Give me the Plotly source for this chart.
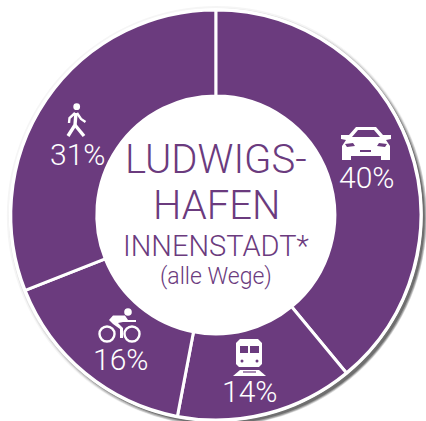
import plotly.graph_objects as go

W, H = 426, 421
categories = ["Auto", "Bahn", "Rad", "Fuß"]
shares = [39, 14, 16, 31]   # slice sizes as drawn
labels = ["40%", "14%", "16%", "31%"]
label_xy = [(366, 177), (249, 391), (120, 359), (77, 154)]
PURPLE = "#6b3b7e"
FONT = "Roboto"
CX, CY, R, HOLE = 215.8, 215.0, 205.0, 119.0

def px(x): return x / W
def py(y): return 1 - y / H
def pt(x, y): return f"{px(x):.5f},{py(y):.5f}"
def poly(points, close=True):
    s = "M" + " L".join(pt(x, y) for x, y in points)
    return s + (" Z" if close else "")

shapes = []
def circle(cx, cy, r, fill=None, line=None, lw=0, layer="above"):
    shapes.append(dict(type="circle", xref="paper", yref="paper", layer=layer,
                       x0=px(cx - r), x1=px(cx + r), y0=py(cy + r), y1=py(cy - r),
                       fillcolor=fill or "rgba(0,0,0,0)",
                       line=dict(color=line or "rgba(0,0,0,0)", width=lw)))
def path(d, fill=None, line=None, lw=0):
    shapes.append(dict(type="path", xref="paper", yref="paper", path=d, layer="above",
                       fillcolor=fill or "rgba(0,0,0,0)",
                       line=dict(color=line or "rgba(0,0,0,0)", width=lw)))

# soft drop shadow behind the disc
for off, r, a in [(1, 210, .04), (2, 209, .07), (3, 208, .12), (3, 207, .2), (3, 206, .3)]:
    circle(CX + off, CY + off, r, fill=f"rgba(0,0,0,{a})", layer="below")
circle(CX, CY, 207, fill="white", layer="below")

# walker
W_ = "white"
circle(76.7, 106.7, 3.4, fill=W_)
path(poly([(76, 113), (75, 125), (68, 136)], False), line=W_, lw=3.4)
path(poly([(75, 125), (84, 136)], False), line=W_, lw=3.4)
path(poly([(75, 113), (69.5, 118), (69, 123)], False), line=W_, lw=2.4)
path(poly([(77, 113), (81, 119), (85.5, 122)], False), line=W_, lw=2.4)

# car
car = poly([(356, 127), (376, 127), (383, 135), (391, 135), (391, 139), (386, 140), (390, 146),
            (390, 160), (381, 160), (381, 156), (351, 156), (351, 160), (342, 160), (342, 146),
            (346, 140), (341, 139), (341, 135), (349, 135)])
car += " " + poly([(358, 130), (374, 130), (380, 137), (352, 137)])
car += " " + poly([(345, 144), (353, 143), (355, 146), (347, 147)])
car += " " + poly([(387, 144), (379, 143), (377, 146), (385, 147)])
car += " " + poly([(360, 150), (371, 150), (371, 152), (360, 152)])
path(car, fill=W_)

# train
train = poly([(240, 339), (258, 339), (262, 343), (262, 364), (259, 367), (239, 367), (236, 364), (236, 343)])
train += " " + poly([(240, 346), (248, 346), (248, 353), (240, 353)])
train += " " + poly([(250, 346), (259, 346), (259, 353), (250, 353)])
path(train, fill=W_)
circle(242, 361, 1.5, fill=PURPLE)
circle(257, 361, 1.5, fill=PURPLE)
path(poly([(240, 370), (259, 370), (266, 376), (233, 376)]), fill=W_)
path(poly([(243, 372), (256, 372)], False), line=PURPLE, lw=1.2)

# cyclist
circle(107, 334, 7.5, line=W_, lw=2.4)
circle(132, 334, 7.5, line=W_, lw=2.4)
circle(128, 312, 3.8, fill=W_)
path(poly([(109, 320), (113, 315.5), (125, 315.5), (128, 320), (136, 320), (136, 322), (126, 322),
           (123, 322), (118, 323), (123, 328), (123, 338), (120, 338), (120, 329), (113, 324)]), fill=W_)

annotations = [dict(x=px(x), y=py(y), text=t, xref="paper", yref="paper", showarrow=False,
                    xanchor="center", yanchor="middle",
                    font=dict(family=FONT, size=30, color="white", weight=300))
               for t, (x, y) in zip(labels, label_xy)]
for t, y, size, w in [("LUDWIGS-", 160, 40, 300), ("HAFEN", 205, 40, 300),
                      ("INNENSTADT*", 246, 29, 300), ("(alle Wege)", 276, 23, 300)]:
    annotations.append(dict(x=px(216), y=py(y), text=t, xref="paper", yref="paper", showarrow=False,
                            xanchor="center", yanchor="middle",
                            font=dict(family=FONT, size=size, color=PURPLE, weight=w)))

fig = go.Figure(go.Pie(
    labels=categories, values=shares, hole=HOLE / R, sort=False, direction="clockwise", rotation=0,
    textinfo="none", hoverinfo="label+percent", showlegend=False,
    marker=dict(colors=[PURPLE] * 4, line=dict(color="white", width=3)),
    domain=dict(x=[px(CX - R), px(CX + R)], y=[py(CY + R), py(CY - R)]),
))
fig.update_layout(width=W, height=H, margin=dict(l=0, r=0, t=0, b=0), paper_bgcolor="white",
                  shapes=shapes, annotations=annotations)
fig.write_html("out.html", config=dict(displayModeBar=False),
               post_script="document.body.style.margin='0';document.body.style.overflow='hidden';")
